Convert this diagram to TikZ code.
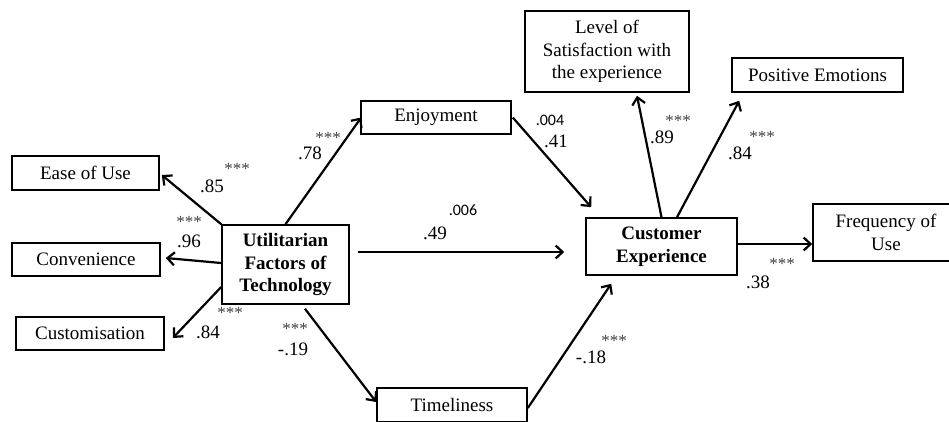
\documentclass[tikz,border=0pt]{standalone}
\usepackage{fontspec}
\setmainfont{Liberation Serif}
\newfontfamily\calib{Carlito}
\usetikzlibrary{arrows.meta}
\begin{document}
\begin{tikzpicture}[x=1pt,y=-1pt,
  box/.style={draw, line width=1.6pt, inner sep=0pt, align=center,
    font=\fontsize{19}{22.5}\selectfont},
  bbox/.style={box, font=\bfseries\fontsize{19}{22.5}\selectfont},
  arr/.style={line width=2.2pt, -{Straight Barb[length=7pt,width=13pt,line width=2.2pt]}},
  num/.style={inner sep=0pt, font=\fontsize{19}{22}\selectfont},
  star/.style={inner sep=0pt, text=black!75, font=\fontsize{17}{17}\selectfont},
  sml/.style={inner sep=0pt, font=\calib\fontsize{16}{16}\selectfont}]
\useasboundingbox (0,0) rectangle (949,421);
\clip (0,0) rectangle (949,421);

% boxes
\node[box, minimum width=147pt, minimum height=34pt] (ease) at (85.5,173) {Ease of Use};
\node[box, minimum width=148pt, minimum height=33pt] (conv) at (86,259.5) {Convenience};
\node[box, minimum width=148pt, minimum height=33pt] (cust) at (90,333.5) {Customisation};
\node[bbox, minimum width=127pt, minimum height=79pt] (util) at (285.5,264.5) {Utilitarian\\Factors of\\Technology};
\node[box, minimum width=150pt, minimum height=33pt] (enjoy) at (436,117.5) {Enjoyment};
\node[box, minimum width=150pt, minimum height=34pt] (time) at (452,405) {Timeliness};
\node[box, minimum width=164pt, minimum height=81pt] (level) at (607,51.5) {Level of\\Satisfaction with\\the experience};
\node[box, minimum width=171pt, minimum height=34pt] (pos) at (817.5,75) {Positive Emotions};
\node[bbox, minimum width=151pt, minimum height=57pt] (ce) at (661.5,246.5) {Customer\\Experience};
\node[box, minimum width=146pt, minimum height=57pt] (freq) at (886,232.5) {Frequency of\\Use};

% connectors
\draw[arr] (util.north west) -- ([xshift=2pt,yshift=-2pt]ease.east);
\draw[arr] ([yshift=1.5pt]util.west) -- ([xshift=5pt,yshift=1.5pt]conv.east);
\draw[arr] ([yshift=-22.5pt]util.west) -- ([xshift=8pt,yshift=-4.5pt]cust.east);
\draw[arr] (util.north) -- ([xshift=1pt]enjoy.west);
\draw[arr] ([xshift=8pt,yshift=12.5pt]util.east) -- ([xshift=-21pt,yshift=-5.5pt]ce.west);
\draw[arr] ([xshift=19.5pt,yshift=-4pt]util.south) -- ([yshift=3pt]time.west);
\draw[arr] ([xshift=1pt]enjoy.east) -- ([xshift=6pt,yshift=10pt]ce.north west);
\draw[arr] ([yshift=-3pt]time.east) -- ([xshift=26pt,yshift=-8pt]ce.south west);
\draw[arr] (ce.north) -- ([xshift=30pt,yshift=-3pt]level.south);
\draw[arr] ([xshift=15.5pt]ce.north) -- ([xshift=8pt,yshift=-8pt]pos.south west);
\draw[arr] ([yshift=2.5pt]ce.east) -- ([yshift=2.5pt]ce.east -| freq.west);

% labels
\node[num] (l85) at (212,186) {.85};
\node[star] (s85) at (237,169) {***};
\node[star] (s96) at (189,222) {***};
\node[num] (l96) at (189,241) {.96};
\node[star] (s84a) at (230,313) {***};
\node[num] (l84a) at (208,332) {.84};
\node[num] (l78) at (310,153) {.78};
\node[star] (s78) at (328,138) {***};
\node[star] (s19) at (295,329) {***};
\node[num] (l19) at (293,349) {-.19};
\node[sml] (l004) at (550,120) {.004};
\node[num] (l41) at (556,141) {.41};
\node[sml] (l006) at (463,210) {.006};
\node[num] (l49) at (435,233) {.49};
\node[num] (l89) at (662,137) {.89};
\node[star] (s89) at (678,121) {***};
\node[num] (l84b) at (740,153) {.84};
\node[star] (s84b) at (762,137) {***};
\node[num] (l38) at (758,282) {.38};
\node[star] (s38) at (782,264) {***};
\node[num] (l18) at (591,357) {-.18};
\node[star] (s18) at (614,341) {***};
\end{tikzpicture}
\end{document}
